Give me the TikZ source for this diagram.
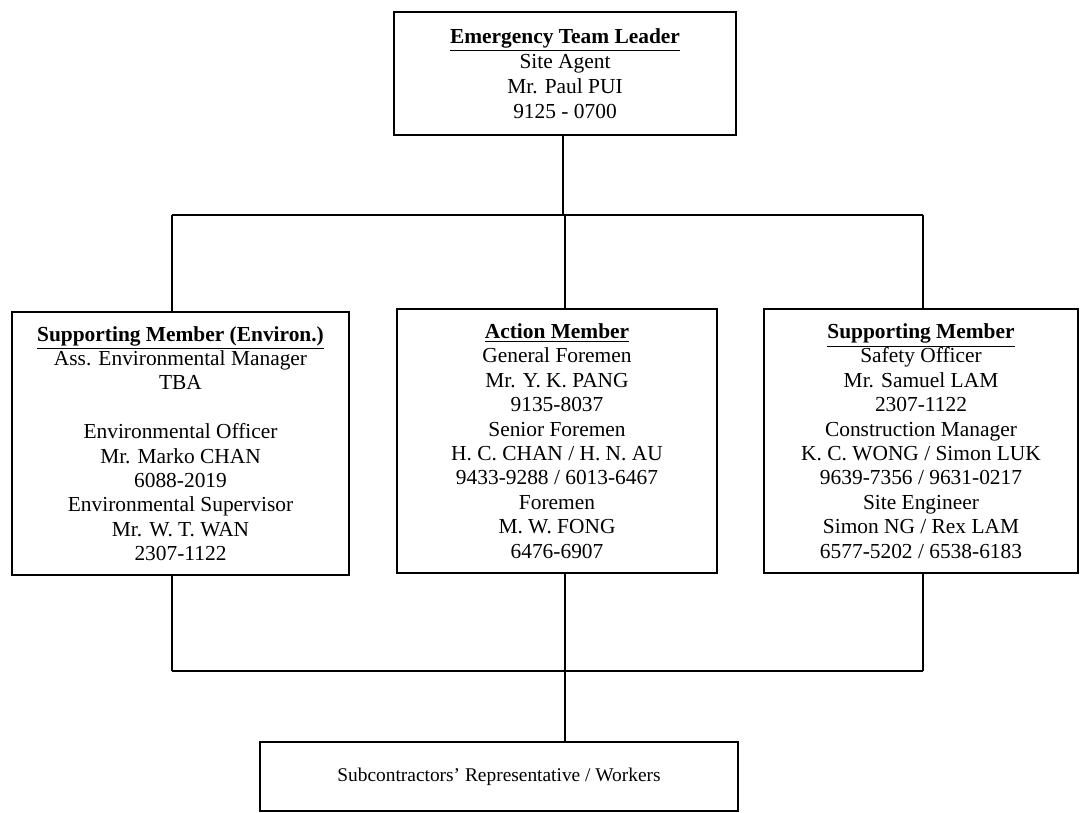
\documentclass[tikz,border=0pt]{standalone}
\usepackage{fontspec}
\setmainfont{Liberation Serif}
\begin{document}
\begin{tikzpicture}[x=0.5pt, y=-0.5pt, line width=1.3pt,
    box/.style={rectangle, draw, align=center, inner sep=0pt,
                font=\fontsize{10.7}{12.2}\selectfont}]

    \useasboundingbox (0,0) rectangle (1081,813);

    % Leader
    \node[box, minimum width=171pt, minimum height=61.5pt,
          font=\fontsize{10.7}{12.5}\selectfont] (lead) at (565,73.5)
        {\underline{\textbf{Emergency Team Leader}}\\ Site Agent\\ Mr. Paul PUI\\ 9125 - 0700};

    % Members
    \node[box, minimum width=168.5pt, minimum height=131.5pt] (envr) at (180.5,443.5)
        {\underline{\textbf{Supporting Member (Environ.)}}\\ Ass. Environmental Manager\\ TBA\\[12.2pt]
         Environmental Officer\\ Mr. Marko CHAN\\ 6088-2019\\ Environmental Supervisor\\ Mr. W. T. WAN\\ 2307-1122};
    \node[box, minimum width=160pt, minimum height=132pt] (act) at (557,441)
        {\underline{\textbf{Action Member}}\\ General Foremen\\ Mr. Y. K. PANG\\ 9135-8037\\ Senior Foremen\\
         H. C. CHAN / H. N. AU\\ 9433-9288 / 6013-6467\\ Foremen\\ M. W. FONG\\ 6476-6907};
    \node[box, minimum width=157pt, minimum height=132pt] (supp) at (921,441)
        {\underline{\textbf{Supporting Member}}\\ Safety Officer\\ Mr. Samuel LAM\\ 2307-1122\\ Construction Manager\\
         K. C. WONG / Simon LUK\\ 9639-7356 / 9631-0217\\ Site Engineer\\ Simon NG / Rex LAM\\ 6577-5202 / 6538-6183};

    % Workers
    \node[box, minimum width=239pt, minimum height=34.5pt,
          font=\fontsize{9.7}{11.6}\selectfont] (sub) at (499,776.5)
        {Subcontractors' Representative / Workers};

    \coordinate (topL) at (172,215);
    \coordinate (topR) at (923,215);
    \coordinate (botL) at (172,671);
    \coordinate (botR) at (923,671);

    \draw (lead.south -| 563,0) -- (topL -| 563,0);
    \draw (topL) -- (topR);
    \draw (topL) -- (topL |- envr.north);
    \draw (act.north -| 565,0) -- (topL -| 565,0);
    \draw (topR) -- (topR |- supp.north);

    \draw (botL) -- (botR);
    \draw (botL) -- (botL |- envr.south);
    \draw (botR) -- (botR |- supp.south);
    \draw (act.south -| 565,0) -- (sub.north -| 565,0);

\end{tikzpicture}
\end{document}
